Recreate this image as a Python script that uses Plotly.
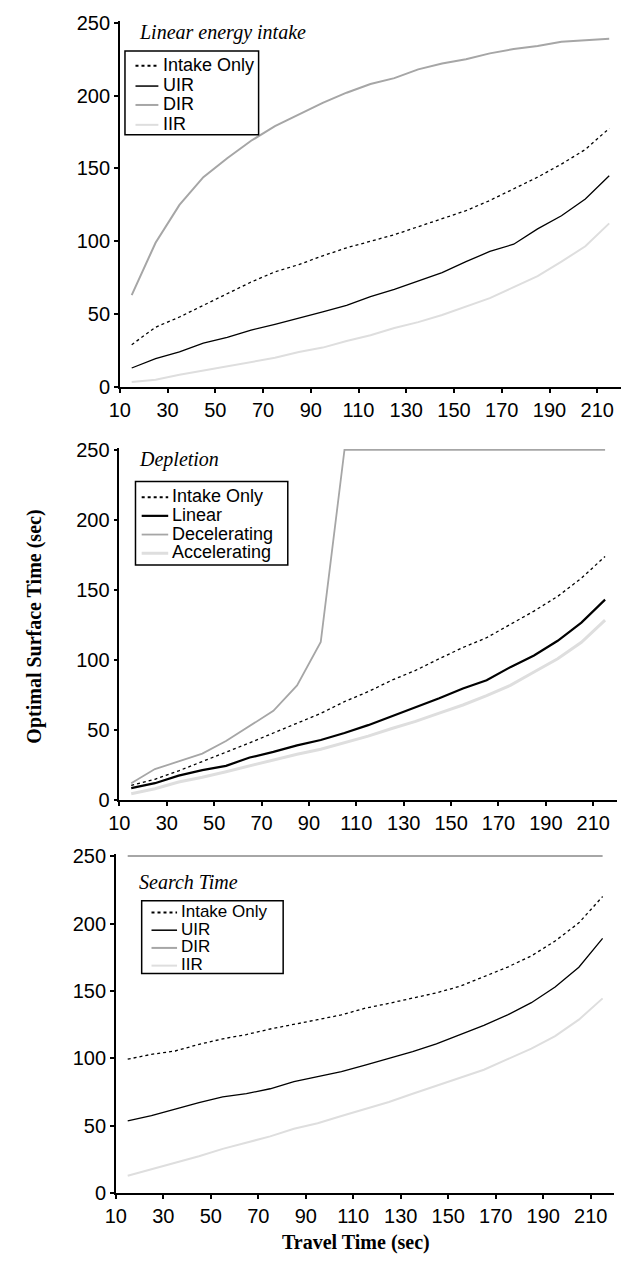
import plotly.graph_objects as go

travel = [15, 25, 35, 45, 55, 65, 75, 85, 95, 105, 115, 125, 135, 145, 155, 165, 175, 185, 195, 205, 215]

# Panel 1: Linear energy intake
p1_intake = [29, 41, 48, 56, 64, 72, 79, 84, 90, 95.5, 100, 104.5, 110, 115.5, 121, 128, 136, 144, 153, 163, 177.5]
p1_uir = [13, 19.5, 24, 30, 34, 39, 43, 47, 51.5, 56, 62, 67, 73, 78.5, 86, 93, 98, 108.5, 117.5, 129, 145]
p1_dir = [63, 99, 125, 144, 157, 169, 179, 187, 195, 202, 208, 212, 218, 222, 225, 229, 232, 234, 237, 238, 239]
p1_iir = [3.4, 5, 8.3, 11.2, 14, 17, 20, 24, 27, 31.5, 35.5, 40.4, 44.5, 49.4, 55, 61, 68.5, 76, 86, 96.6, 112.3]

# Panel 2: Depletion
p2_intake = [10.6, 15, 21, 27.7, 34, 41, 48, 55, 62, 70.4, 77.5, 85.7, 92.7, 101, 109, 116, 125.6, 135, 145.5, 158.5, 174]
p2_linear = [8.7, 12.2, 17.6, 21.5, 24.6, 30.5, 34.5, 39.2, 43, 48, 53.6, 60, 66.4, 72.8, 79.8, 85.7, 95, 103.3, 113.8, 126.8, 143.2]
p2_decel = [12.2, 22.3, 27.7, 33.3, 42.3, 52.8, 63.8, 82, 113, 250, 250, 250, 250, 250, 250, 250, 250, 250, 250, 250, 250]
p2_accel = [4.7, 8.2, 13, 16.4, 20.4, 24.6, 28.9, 32.9, 36.4, 41, 45.8, 51.2, 56.3, 62.2, 68, 74.6, 82, 91.5, 101, 112.7, 128.6]

# Panel 3: Search Time
p3_intake = [99.4, 103, 105.5, 110.4, 114.5, 117.7, 121.8, 125, 128.7, 132.3, 137.2, 140.8, 144.5, 148.6, 153.5, 160.4, 167.7, 176, 187, 200.5, 220]
p3_uir = [53.6, 57.5, 62.4, 67.3, 71.4, 73.9, 77.5, 82.8, 86.5, 90.2, 95, 99.9, 105, 110.8, 117.6, 124.5, 132.3, 141.3, 153, 167.6, 189]
p3_dir = [250] * 21
p3_iir = [13, 17.8, 22.7, 27.5, 32.9, 37.3, 42.2, 47.8, 51.9, 57.3, 62.4, 67.7, 73.8, 79.9, 86, 91.6, 99.4, 107.2, 116.5, 128.7, 144.5]

panel_titles = ["Linear energy intake", "Depletion", "Search Time"]
p1_names = ["Intake Only", "UIR", "DIR", "IIR"]
p2_names = ["Intake Only", "Linear", "Decelerating", "Accelerating"]
p3_names = ["Intake Only", "UIR", "DIR", "IIR"]
x_ticks = list(range(10, 211, 20))
y_ticks = [0, 50, 100, 150, 200, 250]

W, H = 630, 1265
BLACK = "#000000"
DIR_GRAY = "#a6a6a6"
IIR_GRAY = "#dedede"
SANS = "Liberation Sans, Arial, sans-serif"
SERIF = "Liberation Serif, Times New Roman, serif"
DOT = "3px,3px"

# style per series: (color, width, dash)
styles_1 = [(BLACK, 1.3, DOT), (BLACK, 1.3, "solid"), (DIR_GRAY, 2, "solid"), (IIR_GRAY, 2, "solid")]
styles_2 = [(BLACK, 1.3, DOT), (BLACK, 2.2, "solid"), (DIR_GRAY, 1.8, "solid"), (IIR_GRAY, 3, "solid")]
styles_3 = styles_1

fig = go.Figure()

panels = [
    ("", p1_names, [p1_intake, p1_uir, p1_dir, p1_iir], styles_1),
    ("2", p2_names, [p2_intake, p2_linear, p2_decel, p2_accel], styles_2),
    ("3", p3_names, [p3_intake, p3_uir, p3_dir, p3_iir], styles_3),
]
for ax, names, series, styles in panels:
    for name, ys, (c, w, d) in zip(names, series, styles):
        fig.add_trace(go.Scatter(
            x=travel, y=ys, name=name, mode="lines",
            line=dict(color=c, width=w, dash=d),
            xaxis="x" + ax, yaxis="y" + ax, showlegend=False,
        ))

YMAX = 251.5

def px_dom(a, b):
    return [a / W, b / W]

def py_dom(top250, bottom0):
    h = bottom0 - top250
    top = bottom0 - h * YMAX / 250
    return [1 - bottom0 / H, 1 - top / H]

xdoms = [px_dom(110.7, 621.0), px_dom(110.3, 616.7), px_dom(106.7, 614.2)]
ydoms = [py_dom(14, 384), py_dom(448, 804), py_dom(860.7, 1203.3)]
anchors = ["", "2", "3"]

axis_common = dict(
    showline=True, linecolor=BLACK, linewidth=1.5,
    ticks="outside", ticklen=4, tickwidth=1.5, tickcolor=BLACK,
    showgrid=False, zeroline=False,
    tickfont=dict(family=SANS, size=20, color=BLACK),
)

layout = dict(
    width=W, height=H,
    margin=dict(l=0, r=0, t=0, b=0),
    paper_bgcolor="white", plot_bgcolor="white",
    showlegend=False,
)
for i, a in enumerate(anchors):
    layout["xaxis" + a] = dict(
        domain=xdoms[i], range=[10, 220], tickvals=x_ticks,
        anchor="y" + a, **axis_common,
    )
    layout["yaxis" + a] = dict(
        domain=ydoms[i], range=[0, YMAX], tickvals=y_ticks,
        anchor="x" + a, **axis_common,
    )
fig.update_layout(**layout)

# Legend boxes (drawn in paper space, pixel positions)
def X(px):
    return px / W

def Y(py):
    return 1 - py / H

legend_specs = [
    # box (x0, y0, x1, y1), row ys, symbol x0, x1, text x, font size
    ((116, 42.7, 252, 127.7), [56.7, 77.3, 96.5, 116.7], 126.7, 150, 153, 18, p1_names, styles_1),
    ((126.7, 480, 281.7, 565), [495, 514, 533, 552], 133, 160, 161.5, 18, p2_names, styles_2),
    ((133, 906, 277, 980), [917, 935, 953, 971], 143, 169, 171, 17, p3_names, styles_3),
]
for (bx0, by0, bx1, by1), rows, sx0, sx1, tx, fs, names, styles in legend_specs:
    fig.add_shape(type="rect", xref="paper", yref="paper",
                  x0=X(bx0), x1=X(bx1), y0=Y(by1), y1=Y(by0),
                  line=dict(color=BLACK, width=1.5), fillcolor="white", layer="above")
    for ry, name, (c, w, d) in zip(rows, names, styles):
        lw = 2 if d != "solid" else max(w, 1.5)
        fig.add_shape(type="line", xref="paper", yref="paper",
                      x0=X(sx0), x1=X(sx1), y0=Y(ry + 1), y1=Y(ry + 1),
                      line=dict(color=c, width=lw, dash=d), layer="above")
        fig.add_annotation(
            x=X(tx), y=Y(ry), xref="paper", yref="paper",
            xanchor="left", yanchor="middle", showarrow=False,
            text=name, font=dict(family=SANS, size=fs, color=BLACK),
        )

title_pos = [(128, 24), (128, 458), (128, 887)]
for (tx, ty), t in zip(title_pos, panel_titles):
    fig.add_annotation(
        x=tx / W, y=1 - ty / H, xref="paper", yref="paper",
        xanchor="left", yanchor="middle", showarrow=False,
        text="<i>" + t + "</i>",
        font=dict(family=SERIF, size=20, color=BLACK),
    )

fig.add_annotation(
    x=23 / W, y=1 - 628 / H, xref="paper", yref="paper",
    xanchor="center", yanchor="middle", showarrow=False, textangle=-90,
    text="<b>Optimal Surface Time (sec)</b>",
    font=dict(family=SERIF, size=20, color=BLACK),
)
fig.add_annotation(
    x=351 / W, y=1 - 1253 / H, xref="paper", yref="paper",
    xanchor="center", yanchor="middle", showarrow=False,
    text="<b>Travel Time (sec)</b>",
    font=dict(family=SERIF, size=20, color=BLACK),
)

fig.write_html("out.html")
